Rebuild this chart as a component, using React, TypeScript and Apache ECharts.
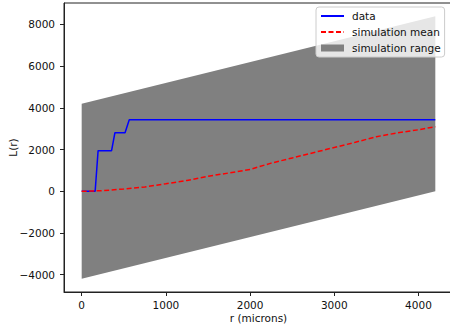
import React, { useEffect, useRef } from "react";
import * as echarts from "echarts";

// Observed data (step-like curve)
const dataR = [0, 160, 195, 355, 395, 515, 565, 4200];
const dataL = [0, 0, 1950, 1950, 2810, 2810, 3430, 3430];

// Simulation mean
const meanR = [0, 250, 500, 750, 1000, 1250, 1500, 1750, 2000, 2250, 2500, 2750, 3000, 3250, 3500, 3750, 4000, 4200];
const meanL = [0, 30, 110, 210, 360, 520, 720, 880, 1050, 1350, 1600, 1850, 2100, 2350, 2620, 2800, 2950, 3100];

// Simulation range envelope
const bandR = [0, 4200];
const bandLower = [-4200, 0];
const bandUpper = [4200, 8400];

const xTicks = [0, 1000, 2000, 3000, 4000];
const yTicks = [-4000, -2000, 0, 2000, 4000, 6000, 8000];

const FONT = "DejaVu Sans";
const fmt = (v: number) => String(v).replace("-", "\u2212");

export default function App() {
  const ref = useRef<HTMLDivElement>(null);
  useEffect(() => {
    if (!ref.current) return;
    const chart = echarts.init(ref.current, null, { renderer: "svg" });
    const bandData = bandR.map((r, i) => [r, bandLower[i], bandUpper[i]]);
    chart.setOption({
      animation: false,
      backgroundColor: "#ffffff",
      textStyle: { fontFamily: FONT },
      grid: {
        left: 64,
        top: 3,
        right: -3,
        bottom: 33,
        containLabel: false,
        outerBoundsMode: "none",
        show: true,
        borderColor: "#222",
        borderWidth: 1,
        backgroundColor: "transparent",
      },
      legend: {
        orient: "vertical",
        left: 316,
        top: 7,
        padding: [3, 4, 3, 4],
        itemWidth: 23,
        itemHeight: 7,
        itemGap: 4,
        backgroundColor: "rgba(255,255,255,0.8)",
        borderColor: "#cccccc",
        borderWidth: 1,
        borderRadius: 3,
        textStyle: { fontFamily: FONT, fontSize: 10.5, color: "#111", lineHeight: 12, padding: [0, 0, 0, 3] },
        data: [
          { name: "data", itemStyle: { opacity: 0 } },
          { name: "simulation mean", itemStyle: { opacity: 0 } },
          { name: "simulation range", icon: "rect" },
        ],
      },
      xAxis: {
        type: "value",
        min: -210,
        max: 4410,
        name: "r (microns)",
        nameLocation: "middle",
        nameGap: 20,
        nameMoveOverlap: false,
        nameTextStyle: { fontFamily: FONT, fontSize: 10.5, color: "#111" },
        axisLine: { show: true, onZero: false, lineStyle: { color: "#222", width: 1 } },
        axisTick: { show: true, length: 4, customValues: xTicks, lineStyle: { color: "#222" } },
        axisLabel: { customValues: xTicks, margin: 7, fontFamily: FONT, fontSize: 10.5, color: "#111", formatter: fmt },
        splitLine: { show: false },
      },
      yAxis: {
        type: "value",
        min: -4830,
        max: 9030,
        name: "L(r)",
        nameLocation: "middle",
        nameGap: 46,
        nameMoveOverlap: false,
        nameRotate: 90,
        nameTextStyle: { fontFamily: FONT, fontSize: 10.5, color: "#111" },
        axisLine: { show: true, onZero: false, lineStyle: { color: "#222", width: 1 } },
        axisTick: { show: true, length: 4, customValues: yTicks, lineStyle: { color: "#222" } },
        axisLabel: { customValues: yTicks, margin: 9, fontFamily: FONT, fontSize: 10.5, color: "#111", formatter: fmt },
        splitLine: { show: false },
      },
      series: [
        {
          name: "simulation range",
          type: "custom",
          itemStyle: { color: "#808080" },
          data: [0],
          renderItem: (params: any, api: any) => {
            const upper = bandData.map((d) => api.coord([d[0], d[2]]));
            const lower = bandData.map((d) => api.coord([d[0], d[1]])).reverse();
            return {
              type: "polygon",
              shape: { points: upper.concat(lower) },
              style: { fill: "#808080", stroke: "none" },
            };
          },
          z: 1,
        },
        {
          name: "data",
          type: "line",
          data: dataR.map((r, i) => [r, dataL[i]]),
          symbol: "none",
          lineStyle: { color: "#0000ff", width: 1.5 },
          itemStyle: { color: "#0000ff" },
          z: 3,
        },
        {
          name: "simulation mean",
          type: "line",
          data: meanR.map((r, i) => [r, meanL[i]]),
          symbol: "none",
          smooth: false,
          lineStyle: { color: "#ff0000", width: 1.5, type: [5, 2.5] },
          itemStyle: { color: "#ff0000" },
          z: 4,
        },
      ],
    });
    return () => chart.dispose();
  }, []);
  return (
    <div
      ref={ref}
      style={{ position: "fixed", left: 0, top: 0, width: 450, height: 325 }}
    />
  );
}
